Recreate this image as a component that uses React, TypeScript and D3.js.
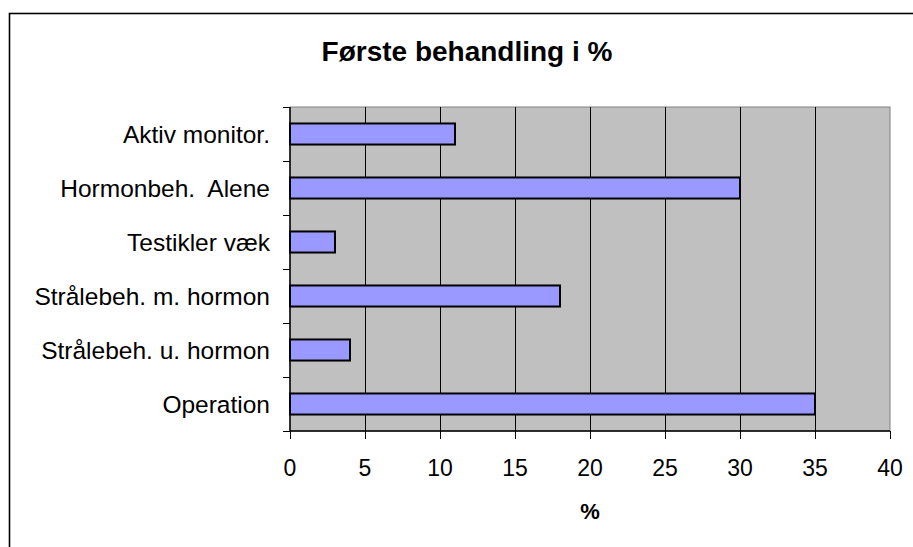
import React from "react";
import * as d3 from "d3";

const categories = [
  "Aktiv monitor.",
  "Hormonbeh.  Alene",
  "Testikler væk",
  "Strålebeh. m. hormon",
  "Strålebeh. u. hormon",
  "Operation",
];
const values = [11, 30, 3, 18, 4, 35];
const xTicks = [0, 5, 10, 15, 20, 25, 30, 35, 40];
const title = "Første behandling i %";
const xTitle = "%";

const W = 913;
const H = 547;
const FONT = "'Liberation Sans', Arial, sans-serif";

export default function App() {
  const left = 290, right = 890, top = 107, bottom = 431;
  const x = d3.scaleLinear().domain([0, 40]).range([left, right]);
  const y = d3
    .scaleBand<string>()
    .domain(categories)
    .range([top, bottom])
    .paddingInner(0.61)
    .paddingOuter(0.305);
  const step = y.step();
  const boundaries = d3.range(categories.length + 1).map((i) => top + i * step);

  return (
    <svg
      width={W}
      height={H}
      style={{ position: "absolute", left: 0, top: 0, display: "block", background: "#fff" }}
    >
      <rect x={9.5} y={13.5} width={2000} height={2000} fill="#fff" stroke="#000" strokeWidth={1.6} />
      <text x={467} y={61} textAnchor="middle" fontFamily={FONT} fontWeight="bold" fontSize={28}>
        {title}
      </text>
      {/* plot area */}
      <rect x={left} y={top} width={right - left} height={bottom - top} fill="#C0C0C0" stroke="#808080" strokeWidth={1} />
      {/* gridlines */}
      {xTicks.slice(1, -1).map((t) => (
        <line key={t} x1={Math.round(x(t)) + 0.5} x2={Math.round(x(t)) + 0.5} y1={top} y2={bottom} stroke="#000" strokeWidth={1} />
      ))}
      {/* bars */}
      {categories.map((c, i) => (
        <rect
          key={c}
          x={x(0)}
          y={y(c)!}
          width={x(values[i]) - x(0)}
          height={y.bandwidth()}
          fill="#9999FF"
          stroke="#000"
          strokeWidth={2}
        />
      ))}
      {/* axes */}
      <line x1={left} x2={left} y1={top} y2={bottom} stroke="#000" strokeWidth={1.5} />
      <line x1={left} x2={right} y1={bottom} y2={bottom} stroke="#000" strokeWidth={1.5} />
      {boundaries.map((b, i) => (
        <line key={i} x1={left - 7} x2={left} y1={Math.round(b) + 0.5} y2={Math.round(b) + 0.5} stroke="#000" strokeWidth={1} />
      ))}
      {xTicks.map((t) => (
        <g key={t}>
          <line x1={Math.round(x(t)) + 0.5} x2={Math.round(x(t)) + 0.5} y1={bottom} y2={bottom + 8} stroke="#000" strokeWidth={1} />
          <text x={x(t)} y={476} textAnchor="middle" fontFamily={FONT} fontSize={23}>
            {t}
          </text>
        </g>
      ))}
      {categories.map((c) => (
        <text
          key={c}
          x={270}
          y={y(c)! + y.bandwidth() / 2}
          dy="0.35em"
          textAnchor="end"
          fontFamily={FONT}
          fontSize={24.5}
          style={{ whiteSpace: "pre" }}
        >
          {c}
        </text>
      ))}
      <text x={(left + right) / 2} y={519} textAnchor="middle" fontFamily={FONT} fontWeight="bold" fontSize={22}>
        {xTitle}
      </text>
    </svg>
  );
}
